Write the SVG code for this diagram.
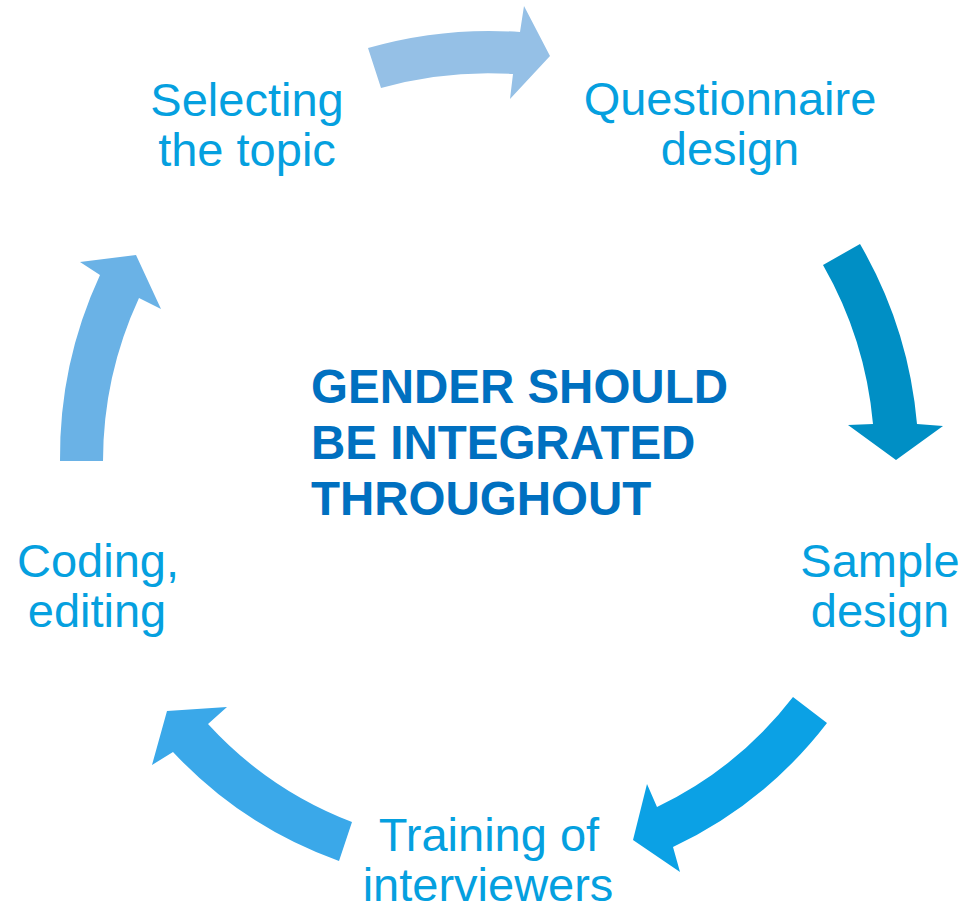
<svg xmlns="http://www.w3.org/2000/svg" width="965" height="912" viewBox="0 0 965 912">
<style>
.lbl{font-family:"Liberation Sans",Arial,sans-serif;font-size:47px;fill:#05A0DF;text-anchor:middle}
.ctr{font-family:"Liberation Sans",Arial,sans-serif;font-size:47.5px;font-weight:bold;fill:#0070C0}
</style>
<rect width="965" height="912" fill="#ffffff"/>
<g id="connectors">
<path id="a1" fill="#95C0E6" d="M368,48 A439,439 0 0 1 520,32 L524,6 L550,56 L510,99 L513,74 A397,397 0 0 0 381,88 Z"/>
<path id="a2" fill="#008FC5" d="M860,244 A434,434 0 0 1 917,424 L943,426 L896,460 L848,425 L873,424 A390,390 0 0 0 823,265 Z"/>
<path id="a3" fill="#0BA1E5" d="M793,697 L827,723 A420,420 0 0 1 673,847 L680,872 L633,840 L647,784 L657,807 A377,377 0 0 0 793,697 Z"/>
<path id="a4" fill="#3AA8E9" d="M352,822 L339,861 A421,421 0 0 1 173,752 L152,765 L167,711 L227,707 L208,724 A379,379 0 0 0 352,822 Z"/>
<path id="a5" fill="#6AB2E6" d="M103,461 L60,461 A433,433 0 0 1 100,275 L80,262 L136,255 L161,309 L139,298 A389,389 0 0 0 103,461 Z"/>
</g>
<g id="center">
<text class="ctr" x="311" y="403">GENDER SHOULD</text>
<text class="ctr" x="311" y="459">BE INTEGRATED</text>
<text class="ctr" x="311" y="515">THROUGHOUT</text>
</g>
<g id="selecting">
<text class="lbl" x="247" y="116">Selecting</text>
<text class="lbl" x="247" y="166">the topic</text>
</g>
<g id="questionnaire">
<text class="lbl" x="730" y="115">Questionnaire</text>
<text class="lbl" x="730" y="165">design</text>
</g>
<g id="sample">
<text class="lbl" x="880" y="577">Sample</text>
<text class="lbl" x="880" y="627">design</text>
</g>
<g id="training">
<text class="lbl" x="489" y="851">Training of</text>
<text class="lbl" x="488" y="901">interviewers</text>
</g>
<g id="coding">
<text class="lbl" x="98" y="577">Coding,</text>
<text class="lbl" x="97" y="627">editing</text>
</g>
</svg>
